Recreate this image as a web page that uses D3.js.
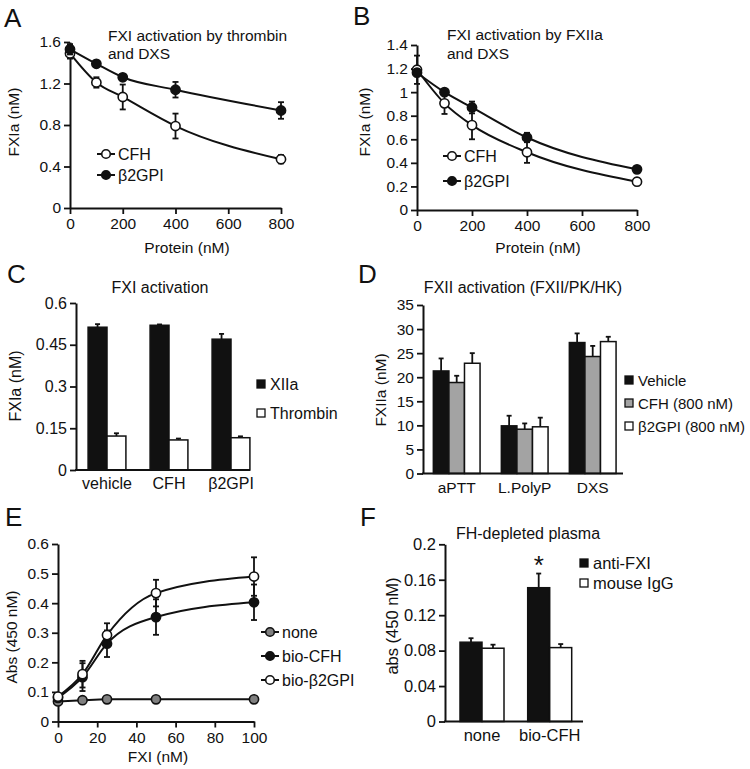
<!DOCTYPE html>
<html><head><meta charset="utf-8">
<script src="https://cdn.jsdelivr.net/npm/d3@7"></script>
<style>
body{margin:0;background:#fff;}
svg{display:block;font-family:"Liberation Sans",Arial,sans-serif;}
</style></head>
<body>
<svg id="fig" width="750" height="769"></svg>
<script>
// ---------- DATA ----------
const protein = [0, 100, 200, 400, 800];
const aCFH = [1.49, 1.21, 1.07, 0.79, 0.47];
const aCFHErr = [0.05, 0.05, 0.12, 0.12, 0.04];
const aB2 = [1.53, 1.39, 1.26, 1.14, 0.94];
const aB2Err = [0.05, 0.03, 0.03, 0.075, 0.08];

const bCFH = [1.19, 0.905, 0.72, 0.49, 0.24];
const bCFHErr = [0.12, 0.09, 0.12, 0.09, 0.03];
const bB2 = [1.165, 1.0, 0.87, 0.615, 0.345];
const bB2Err = [0.03, 0.02, 0.05, 0.04, 0.02];

const cCats = ["vehicle", "CFH", "β2GPI"];
const cSeries = ["XIIa", "Thrombin"];
const cXIIa = [0.513, 0.52, 0.47];
const cXIIaErr = [0.011, 0.003, 0.019];
const cThr = [0.122, 0.108, 0.116];
const cThrErr = [0.01, 0.005, 0.005];

const dCats = ["aPTT", "L.PolyP", "DXS"];
const dSeries = ["Vehicle", "CFH (800 nM)", "β2GPI (800 nM)"];
const dVeh = [21.3, 9.9, 27.2];
const dVehErr = [2.6, 2.1, 1.9];
const dCFH = [18.9, 9.2, 24.3];
const dCFHErr = [1.4, 1.2, 2.2];
const dB2 = [22.9, 9.7, 27.4];
const dB2Err = [2.1, 1.9, 1.0];

const fxi = [0, 12.5, 25, 50, 100];
const eNone = [0.068, 0.072, 0.075, 0.075, 0.075];
const eCFH = [0.08, 0.15, 0.263, 0.353, 0.403];
const eCFHErr = [0.005, 0.047, 0.045, 0.06, 0.06];
const eB2 = [0.084, 0.16, 0.292, 0.434, 0.49];
const eB2Err = [0.005, 0.045, 0.04, 0.045, 0.065];

const fCats = ["none", "bio-CFH"];
const fSeries = ["anti-FXI", "mouse IgG"];
const fAnti = [0.0895, 0.151];
const fAntiErr = [0.0045, 0.016];
const fIgG = [0.0827, 0.0834];
const fIgGErr = [0.004, 0.004];

// ticks
const aYTicks = [0, 0.4, 0.8, 1.2, 1.6];
const abXTicks = [0, 200, 400, 600, 800];
const bYTicks = [0, 0.2, 0.4, 0.6, 0.8, 1, 1.2, 1.4];
const cYTicks = [0, 0.15, 0.3, 0.45, 0.6];
const dYTicks = [0, 5, 10, 15, 20, 25, 30, 35];
const eYTicks = [0, 0.1, 0.2, 0.3, 0.4, 0.5, 0.6];
const eXTicks = [0, 20, 40, 60, 80, 100];
const fYTicks = [0, 0.04, 0.08, 0.12, 0.16, 0.2];

// ---------- DRAWING ----------
const svg = d3.select("#fig");
svg.append("rect").attr("width", 750).attr("height", 769).attr("fill", "#fff");
const INK = "#111";
const FS = 15.5;

function styleAxis(g, fs) {
  g.select(".domain").attr("stroke", INK).attr("stroke-width", 2);
  g.selectAll(".tick line").attr("stroke", INK).attr("stroke-width", 1.8);
  g.selectAll(".tick text").attr("fill", INK).attr("font-size", fs || FS).attr("font-family", null);
}
function yAxis(y, x0, ticks, fs) {
  const g = svg.append("g").attr("transform", `translate(${x0},0)`)
    .call(d3.axisLeft(y).tickValues(ticks).tickSize(6).tickSizeOuter(0).tickPadding(3).tickFormat(d3.format("")));
  styleAxis(g, fs);
  return g;
}
function xAxisLin(x, y0, ticks, fs) {
  const g = svg.append("g").attr("transform", `translate(0,${y0})`)
    .call(d3.axisBottom(x).tickValues(ticks).tickSize(6).tickSizeOuter(0).tickPadding(4).tickFormat(d3.format("")));
  styleAxis(g, fs);
  return g;
}
function xAxisBand(x, y0, x1, x2, fs) {
  const g = svg.append("g").attr("transform", `translate(0,${y0})`)
    .call(d3.axisBottom(x).tickSize(0).tickPadding(8));
  g.select(".domain").remove();
  g.selectAll(".tick text").attr("fill", INK).attr("font-size", fs || FS).attr("font-family", null);
  svg.append("line").attr("x1", x1 - 1).attr("x2", x2).attr("y1", y0).attr("y2", y0)
    .attr("stroke", INK).attr("stroke-width", 2);
}
function text(x, y, s, opts = {}) {
  return svg.append("text").attr("x", x).attr("y", y).text(s)
    .attr("font-size", opts.fs || FS).attr("fill", INK)
    .attr("text-anchor", opts.anchor || "start");
}
function yLabel(x, y, s, fs) {
  svg.append("text").attr("transform", `translate(${x},${y}) rotate(-90)`)
    .attr("text-anchor", "middle").attr("font-size", fs || FS).attr("fill", INK).text(s);
}
function letter(x, y, s) { text(x, y, s, { fs: 26 }); }

function lineSeries(x, y, xs, ys, errs, fill) {
  const pts = xs.map((d, i) => [d, ys[i], errs ? errs[i] : 0]);
  svg.append("path").datum(pts)
    .attr("d", d3.line().x(d => x(d[0])).y(d => y(d[1])).curve(d3.curveMonotoneX))
    .attr("fill", "none").attr("stroke", INK).attr("stroke-width", 2);
  const eg = svg.append("g").attr("stroke", INK).attr("stroke-width", 1.8);
  pts.filter(d => d[2] > 0.006).forEach(d => {
    const cx = x(d[0]);
    eg.append("line").attr("x1", cx).attr("x2", cx).attr("y1", y(d[1] - d[2])).attr("y2", y(d[1] + d[2]));
    eg.append("line").attr("x1", cx - 3).attr("x2", cx + 3).attr("y1", y(d[1] - d[2])).attr("y2", y(d[1] - d[2]));
    eg.append("line").attr("x1", cx - 3).attr("x2", cx + 3).attr("y1", y(d[1] + d[2])).attr("y2", y(d[1] + d[2]));
  });
  svg.append("g").selectAll("circle").data(pts).join("circle")
    .attr("cx", d => x(d[0])).attr("cy", d => y(d[1])).attr("r", 4.6)
    .attr("fill", fill).attr("stroke", INK).attr("stroke-width", 1.6);
}
function lineLegend(x, y, label, fill, fs) {
  svg.append("line").attr("x1", x).attr("x2", x + 18).attr("y1", y).attr("y2", y)
    .attr("stroke", INK).attr("stroke-width", 2);
  svg.append("circle").attr("cx", x + 9).attr("cy", y).attr("r", 4.3)
    .attr("fill", fill).attr("stroke", INK).attr("stroke-width", 1.6);
  text(x + 21, y + 5.5, label, { fs: fs || 16 });
}
function barGroups(x, y, cats, seriesVals, seriesErrs, fills) {
  const inner = d3.scaleBand().domain(d3.range(seriesVals.length)).range([0, x.bandwidth()]);
  cats.forEach((c, ci) => {
    seriesVals.forEach((vals, si) => {
      const bx = x(c) + inner(si), bw = inner.bandwidth();
      const v = vals[ci], e = seriesErrs[si][ci];
      const cx = bx + bw / 2;
      svg.append("line").attr("x1", cx).attr("x2", cx).attr("y1", y(v)).attr("y2", y(v + e))
        .attr("stroke", INK).attr("stroke-width", 1.8);
      svg.append("line").attr("x1", cx - 2.5).attr("x2", cx + 2.5).attr("y1", y(v + e)).attr("y2", y(v + e))
        .attr("stroke", INK).attr("stroke-width", 1.8);
      svg.append("rect").attr("x", bx).attr("y", y(v)).attr("width", bw).attr("height", y(0) - y(v))
        .attr("fill", fills[si]).attr("stroke", INK).attr("stroke-width", 1.5);
    });
  });
}
function boxLegend(x, y, label, fill, fs) {
  svg.append("rect").attr("x", x).attr("y", y - 4).attr("width", 8).attr("height", 8)
    .attr("fill", fill).attr("stroke", INK).attr("stroke-width", 1.3);
  text(x + 13, y + 5.5, label, { fs: fs || 16 });
}

// ===== Panel A =====
{
  const x = d3.scaleLinear().domain([0, 800]).range([70, 281]);
  const y = d3.scaleLinear().domain([0, 1.6]).range([208, 42]);
  yAxis(y, 70, aYTicks);
  xAxisLin(x, 208, abXTicks);
  lineSeries(x, y, protein, aCFH, aCFHErr, "#fff");
  lineSeries(x, y, protein, aB2, aB2Err, INK);
  letter(4, 27, "A");
  text(108, 41, "FXI activation by thrombin");
  text(108, 59, "and DXS");
  text(187, 253, "Protein (nM)", { anchor: "middle" });
  yLabel(19, 122, "FXIa (nM)");
  lineLegend(97, 154, "CFH", "#fff");
  lineLegend(97, 175, "β2GPI", INK);
}
// ===== Panel B =====
{
  const x = d3.scaleLinear().domain([0, 800]).range([417, 637]);
  const y = d3.scaleLinear().domain([0, 1.4]).range([210, 45]);
  yAxis(y, 417, bYTicks);
  xAxisLin(x, 210, abXTicks);
  lineSeries(x, y, protein, bCFH, bCFHErr, "#fff");
  lineSeries(x, y, protein, bB2, bB2Err, INK);
  letter(353, 25, "B");
  text(447, 40, "FXI activation by FXIIa");
  text(447, 59, "and DXS");
  text(538, 253, "Protein (nM)", { anchor: "middle" });
  yLabel(370, 122, "FXIa (nM)");
  lineLegend(443, 156, "CFH", "#fff");
  lineLegend(443, 181, "β2GPI", INK);
}
// ===== Panel C =====
{
  const y = d3.scaleLinear().domain([0, 0.6]).range([470, 303]);
  const x = d3.scaleBand().domain(cCats).range([76, 262]).paddingInner(0.39).paddingOuter(0.195);
  barGroups(x, y, cCats, [cXIIa, cThr], [cXIIaErr, cThrErr], [INK, "#fff"]);
  yAxis(y, 76, cYTicks, 16);
  xAxisBand(x, 470, 76, 250, 16);
  letter(7, 283, "C");
  text(160, 293, "FXI activation", { anchor: "middle", fs: 16 });
  yLabel(21, 386, "FXIa (nM)", 16);
  boxLegend(257, 384, cSeries[0], INK, 16);
  boxLegend(257, 413, cSeries[1], "#fff", 16);
}
// ===== Panel D =====
{
  const y = d3.scaleLinear().domain([0, 35]).range([473.5, 305]);
  const x = d3.scaleBand().domain(dCats).range([423, 626.4]).paddingInner(0.313).paddingOuter(0.152);
  barGroups(x, y, dCats, [dVeh, dCFH, dB2], [dVehErr, dCFHErr, dB2Err], [INK, "#a3a3a3", "#fff"]);
  yAxis(y, 423, dYTicks);
  xAxisBand(x, 473.5, 423, 623);
  letter(358, 283, "D");
  text(523, 293, "FXII activation (FXII/PK/HK)", { anchor: "middle", fs: 16 });
  yLabel(386, 390, "FXIIa (nM)");
  boxLegend(625, 380, dSeries[0], INK, 15);
  boxLegend(625, 403, dSeries[1], "#a3a3a3", 15);
  boxLegend(625, 426, dSeries[2], "#fff", 15);
}
// ===== Panel E =====
{
  const x = d3.scaleLinear().domain([0, 100]).range([58, 254]);
  const y = d3.scaleLinear().domain([0, 0.6]).range([721.5, 544]);
  yAxis(y, 58, eYTicks);
  xAxisLin(x, 721.5, eXTicks);
  lineSeries(x, y, fxi, eNone, null, "#808080");
  lineSeries(x, y, fxi, eCFH, eCFHErr, INK);
  lineSeries(x, y, fxi, eB2, eB2Err, "#fff");
  letter(5, 526, "E");
  text(158, 762, "FXI (nM)", { anchor: "middle" });
  yLabel(17, 637, "Abs (450 nM)");
  lineLegend(261, 632, "none", "#808080");
  lineLegend(261, 656, "bio-CFH", INK);
  lineLegend(261, 680, "bio-β2GPI", "#fff");
}
// ===== Panel F =====
{
  const y = d3.scaleLinear().domain([0, 0.2]).range([721.5, 544.3]);
  const x = d3.scaleBand().domain(fCats).range([445, 586.7]).paddingInner(0.35).paddingOuter(0.2216);
  barGroups(x, y, fCats, [fAnti, fIgG], [fAntiErr, fIgGErr], [INK, "#fff"]);
  yAxis(y, 445, fYTicks, 16.5);
  xAxisBand(x, 721.5, 445, 583, 16.5);
  letter(360, 526, "F");
  text(528, 539, "FH-depleted plasma", { anchor: "middle", fs: 16 });
  yLabel(398, 626, "abs (450 nM)", 16.5);
  text(x("bio-CFH") + x.bandwidth() / 4, 574, "*", { anchor: "middle", fs: 26 });
  boxLegend(580, 563, fSeries[0], INK, 16.5);
  boxLegend(580, 583, fSeries[1], "#fff", 16.5);
}
</script>
</body></html>
